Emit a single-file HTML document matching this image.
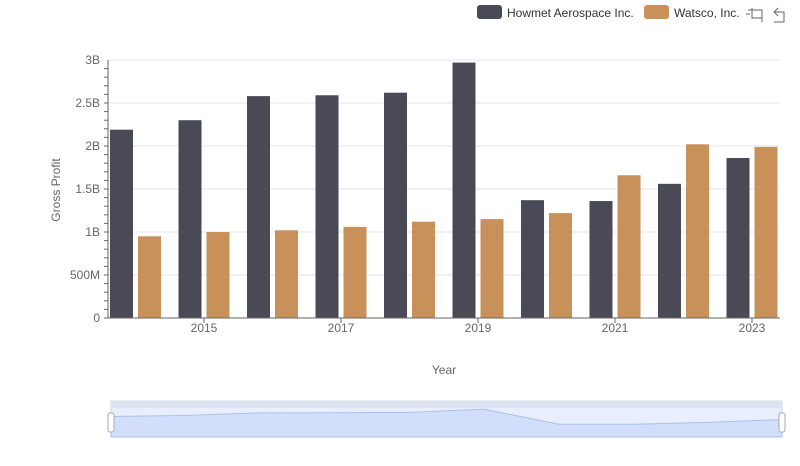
<!DOCTYPE html>
<html><head><meta charset="utf-8"><style>
body{margin:0;background:#fff;font-family:"Liberation Sans",sans-serif;}
svg text{font-family:"Liberation Sans",sans-serif;}
</style></head><body>
<svg id="c" width="800" height="461">
<g id="legend">
 <g><rect x="477" y="5" width="25" height="14" rx="3" fill="#4a4a57"/><text x="507" y="17" font-size="12" fill="#333">Howmet Aerospace Inc.</text></g>
 <g><rect x="644" y="5" width="25" height="14" rx="3" fill="#c8915a"/><text x="674" y="17" font-size="12" fill="#333">Watsco, Inc.</text></g>
 <g stroke="#666" fill="none"><path d="M748 10h14v12M752 8v10h10M746 14h4"/></g>
 <g stroke="#666" fill="none"><path d="M778 8l-4 4 4 4M774 12h10v10h-10"/></g>
</g>
<text x="60" y="190" font-size="12" fill="#666" transform="rotate(-90 60 190)" text-anchor="middle">Gross Profit</text>
<text x="444" y="374" font-size="12" fill="#666" text-anchor="middle">Year</text>
<g id="grid"></g><g id="bars"></g><g id="axes"></g>
<g>
 <rect x="111" y="401" width="671" height="36" fill="#e8eefc" stroke="#d5dbe8"/>
 <rect x="111" y="401" width="671" height="7" fill="#dde3f0"/>
 <path id="mini" fill="#d2defa" stroke="#a9c0ee"/>
 <rect x="108" y="413" width="6" height="19" rx="2" fill="#fff" stroke="#aaa"/>
 <rect x="779" y="413" width="6" height="19" rx="2" fill="#fff" stroke="#aaa"/>
</g>
</svg>
<script>
const years=[2014,2015,2016,2017,2018,2019,2020,2021,2022,2023];
const howmet=[2.19,2.30,2.58,2.59,2.62,2.97,1.37,1.36,1.56,1.86];
const watsco=[0.95,1.00,1.02,1.06,1.12,1.15,1.22,1.66,2.02,1.99];
const yTicks=[0,0.5,1,1.5,2,2.5,3];
const yTickLabels=["0","500M","1B","1.5B","2B","2.5B","3B"];
const xTickYears=[2015,2017,2019,2021,2023];
const NS="http://www.w3.org/2000/svg";
const X=y=>135.5+68.5*(y-2014);
const Y=v=>318-v*86;
function mk(t,a,p){const e=document.createElementNS(NS,t);for(const k in a)e.setAttribute(k,a[k]);p.appendChild(e);return e;}
const g=document.getElementById('grid'),b=document.getElementById('bars'),ax=document.getElementById('axes');
yTicks.forEach((v,i)=>{
 const l=mk('line',{x1:108,x2:780,y1:Y(v),y2:Y(v),stroke:'#e6e6ee'},g);
 
 
 const t=mk('text',{x:100,y:Y(v)+4,'font-size':12,fill:'#666','text-anchor':'end'},ax);
 t.textContent=yTickLabels[i];
 
 
});
for(let v=0;v<=3;v+=0.1){const m=mk('line',{x1:104,x2:108,y1:Y(v),y2:Y(v),stroke:'#666'},ax);
 
 }
const al=mk('line',{x1:108,x2:108,y1:60,y2:318,stroke:'#666'},ax);


const xl=mk('line',{x1:108,x2:780,y1:318,y2:318,stroke:'#666'},ax);


xTickYears.forEach(yr=>{
 const t=mk('text',{x:X(yr),y:332,'font-size':12,fill:'#666','text-anchor':'middle'},ax);
 t.textContent=yr;
 
 
 const k=mk('line',{x1:X(yr),x2:X(yr),y1:318,y2:323,stroke:'#666'},ax);
 
 
});
years.forEach((yr,i)=>{
 const r1=mk('rect',{x:X(yr)-25.5,y:Y(howmet[i]),width:23,height:318-Y(howmet[i]),fill:'#4a4a57'},b);
 
 
 const r2=mk('rect',{x:X(yr)+2.5,y:Y(watsco[i]),width:23,height:318-Y(watsco[i]),fill:'#c8915a'},b);
 
 
});
const mx=i=>111+671*i/(years.length-1), my=v=>437-(v/3.2)*30;
let d='M111 437';howmet.forEach((v,i)=>d+=' L'+mx(i)+' '+my(v));d+=' L782 437Z';
document.getElementById('mini').setAttribute('d',d);
</script>
</body></html>
